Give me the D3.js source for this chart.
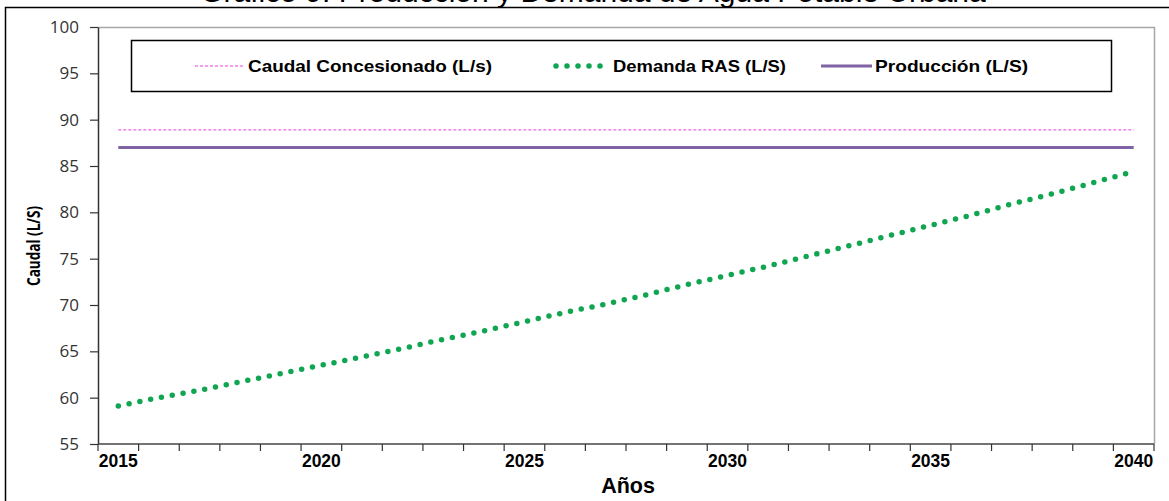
<!DOCTYPE html>
<html>
<head>
<meta charset="utf-8">
<script src="https://cdn.jsdelivr.net/npm/d3@7"></script>
<style>
  html, body { margin: 0; padding: 0; background: #fff; overflow: hidden; }
  svg { display: block; }
</style>
</head>
<body>
<svg id="chart" width="1169" height="501"></svg>
<script>
// ---- data ----
const years = [2015,2016,2017,2018,2019,2020,2021,2022,2023,2024,2025,2026,2027,2028,2029,2030,2031,2032,2033,2034,2035,2036,2037,2038,2039,2040];
const caudalConcesionado = years.map(() => 88.9);
const produccion = years.map(() => 87.0);
const demandaRAS = [59.1, 60.0, 60.8, 61.7, 62.6, 63.5, 64.4, 65.3, 66.3, 67.2, 68.2, 69.2, 70.1, 71.1, 72.2, 73.2, 74.2, 75.3, 76.4, 77.5, 78.6, 79.7, 80.9, 82.0, 83.2, 84.4];
const yTicks = [55, 60, 65, 70, 75, 80, 85, 90, 95, 100];
const xLabelYears = [2015, 2020, 2025, 2030, 2035, 2040];
const titleText = "Gráfico 9. Producción y Demanda de Agua Potable Urbana";
const legendItems = [
  { key: "caudal", label: "Caudal Concesionado (L/s)" },
  { key: "demanda", label: "Demanda RAS (L/S)" },
  { key: "produccion", label: "Producción (L/S)" }
];

(function () {
// ---- layout ----
const svg = d3.select("#chart");
const pL = 98, pR = 1154, pT = 27, pB = 444;
const FONT = "'Liberation Sans', Arial, sans-serif";

const styles = {
  caudal: { stroke: "#e83fe0", width: 1, dash: "3,2", cap: "butt" },
  demanda: { stroke: "#10a550", width: 5.5, dash: "0,11", cap: "round" },
  produccion: { stroke: "#7f63a3", width: 3, dash: null, cap: "butt" }
};

// outer frame
svg.append("rect").attr("x", 5.5).attr("y", 7.5).attr("width", 1300).attr("height", 700)
  .attr("fill", "none").attr("stroke", "#000").attr("stroke-width", 1.5);

// title (mostly cut off at the top, as in the reference)
svg.append("text").attr("x", 593).attr("y", 1.5).attr("text-anchor", "middle")
  .attr("font-family", FONT).attr("font-size", 30).attr("fill", "#000").text(titleText);

const x = d3.scaleBand().domain(years).range([pL, pR]).padding(0);
const y = d3.scaleLinear().domain([55, 100]).range([pB, pT]);
const cx = d => x(d) + x.bandwidth() / 2;

// plot area border (gray top/right)
svg.append("path")
  .attr("d", `M${pL},${pT + 0.5}H${pR + 0.5}V${pB}`)
  .attr("fill", "none").attr("stroke", "#a6a6a6").attr("stroke-width", 1.5);

// y axis
const yAxis = d3.axisLeft(y).tickValues(yTicks).tickSize(8).tickPadding(11).tickSizeOuter(0);
const gy = svg.append("g").attr("transform", `translate(${pL},0)`).call(yAxis);
gy.select(".domain").attr("stroke", "#333").attr("stroke-width", 1.5);
gy.selectAll(".tick line").attr("stroke", "#333").attr("stroke-width", 1.2);
gy.selectAll(".tick text").attr("font-family", "'Open Sans', 'Noto Sans', sans-serif")
  .attr("font-size", 17).attr("fill", "#333");

// x axis (category axis: ticks at category boundaries)
const boundaries = years.map(d => x(d)).concat([pR]);
const gx = svg.append("g");
gx.append("line").attr("x1", pL).attr("x2", pR).attr("y1", pB).attr("y2", pB)
  .attr("stroke", "#444").attr("stroke-width", 1.5);
gx.selectAll("line.tk").data(boundaries).join("line").attr("class", "tk")
  .attr("x1", d => d).attr("x2", d => d).attr("y1", pB).attr("y2", pB + 7)
  .attr("stroke", "#333").attr("stroke-width", 1.2);
gx.selectAll("text").data(xLabelYears).join("text")
  .attr("x", d => cx(d)).attr("y", pB + 23).attr("text-anchor", "middle")
  .attr("font-family", FONT).attr("font-weight", "bold").attr("font-size", 17.5)
  .attr("fill", "#000").text(d => d);

// axis titles
svg.append("text").attr("x", (pL + pR) / 2 + 2).attr("y", 493).attr("text-anchor", "middle")
  .attr("font-family", FONT).attr("font-weight", "bold").attr("font-size", 21.5)
  .attr("fill", "#000").text("Años");
svg.append("text").attr("transform", `translate(40,246) rotate(-90)`)
  .attr("text-anchor", "middle")
  .attr("font-family", "'Open Sans', 'Noto Sans', sans-serif").attr("font-weight", "bold").attr("font-size", 17.5)
  .attr("textLength", 80).attr("lengthAdjust", "spacingAndGlyphs")
  .attr("fill", "#000").text("Caudal (L/S)");

// series
const line = d3.line().x((d, i) => cx(years[i])).y(d => y(d));
function drawSeries(values, st) {
  const p = svg.append("path").datum(values).attr("d", line)
    .attr("fill", "none").attr("stroke", st.stroke).attr("stroke-width", st.width)
    .attr("stroke-linecap", st.cap);
  if (st.dash) p.attr("stroke-dasharray", st.dash);
}
drawSeries(caudalConcesionado, styles.caudal);
drawSeries(produccion, styles.produccion);
drawSeries(demandaRAS, styles.demanda);

// legend
svg.append("rect").attr("x", 131.5).attr("y", 40.5).attr("width", 980).attr("height", 51)
  .attr("fill", "#fff").attr("stroke", "#000").attr("stroke-width", 1.5);
const legPos = [
  { x1: 195, x2: 243, tx: 248, w: 244 },
  { x1: 556, x2: 610, tx: 613, w: 173 },
  { x1: 821, x2: 872, tx: 875, w: 153 }
];
legendItems.forEach((it, i) => {
  const st = styles[it.key], p = legPos[i];
  const l = svg.append("line").attr("x1", p.x1).attr("x2", p.x2).attr("y1", 66).attr("y2", 66)
    .attr("stroke", st.stroke).attr("stroke-width", st.width).attr("stroke-linecap", st.cap);
  if (st.dash) l.attr("stroke-dasharray", st.dash);
  svg.append("text").attr("x", p.tx).attr("y", 72)
    .attr("font-family", FONT).attr("font-weight", "bold").attr("font-size", 17)
    .attr("textLength", p.w).attr("lengthAdjust", "spacingAndGlyphs")
    .attr("fill", "#000").text(it.label);
});
})();
</script>
</body>
</html>
